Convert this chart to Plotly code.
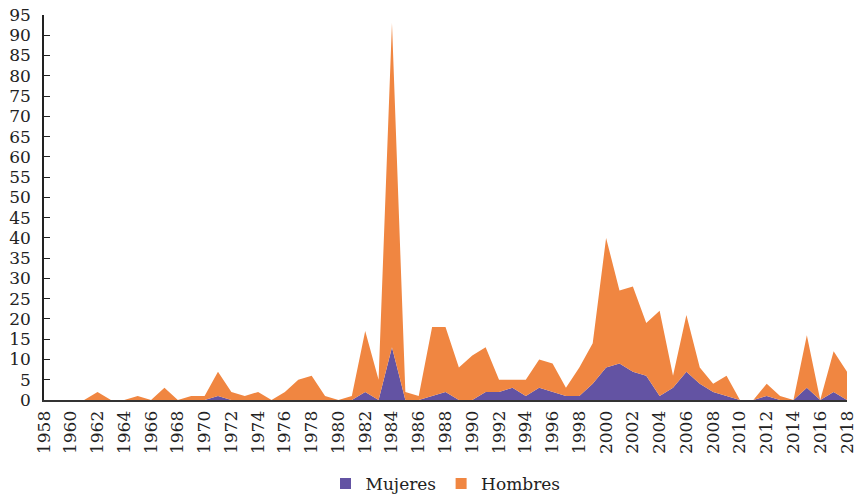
import plotly.graph_objects as go

years = list(range(1958, 2019))
mujeres = [0, 0, 0, 0, 0, 0, 0, 0, 0, 0,
           0, 0, 0, 1, 0, 0, 0, 0, 0, 0,
           0, 0, 0, 0, 2, 0, 13, 0, 0, 1,
           2, 0, 0, 2, 2, 3, 1, 3, 2, 1,
           1, 4, 8, 9, 7, 6, 1, 3, 7, 4,
           2, 1, 0, 0, 1, 0, 0, 3, 0, 2,
           0]
hombres = [0, 0, 0, 0, 2, 0, 0, 1, 0, 3,
           0, 1, 1, 6, 2, 1, 2, 0, 2, 5,
           6, 1, 0, 1, 15, 5, 80, 2, 1, 17,
           16, 8, 11, 11, 3, 2, 4, 7, 7, 2,
           7, 10, 32, 18, 21, 13, 21, 3, 14, 4,
           2, 5, 0, 0, 3, 1, 0, 13, 0, 10,
           7]
tick_years = list(range(1958, 2019, 2))
series_names = ["Mujeres", "Hombres"]
series_colors = ["#6353a3", "#f08641"]

font_family = "DejaVu Serif"
fig = go.Figure()
for name, vals, col in zip(series_names, [mujeres, hombres], series_colors):
    fig.add_trace(go.Scatter(x=years, y=vals, name=name, stackgroup="one",
                             mode="lines", line=dict(width=0, color=col),
                             fillcolor=col, showlegend=False, hoverinfo="skip"))
for name, col in zip(series_names, series_colors):
    fig.add_trace(go.Scatter(x=[None], y=[None], name=name, mode="markers",
                             marker=dict(symbol="square", size=11, color=col)))
fig.update_layout(
    width=857, height=496,
    margin=dict(l=44, r=10, t=15, b=96, autoexpand=False),
    paper_bgcolor="white", plot_bgcolor="white",
    font=dict(family=font_family, size=17, color="#222222"),
    showlegend=True,
    legend=dict(orientation="h", x=0.5, xanchor="center", y=-0.218, yanchor="middle",
                font=dict(size=17), itemwidth=30, traceorder="normal"),
    xaxis=dict(range=[1958, 2018], tickmode="array", tickvals=tick_years,
               ticktext=[str(y) for y in tick_years], tickangle=-90,
               showgrid=False, zeroline=False, showline=True, linecolor="#333333",
               linewidth=2, ticks="", automargin=False, ticklabelstandoff=2),
    yaxis=dict(range=[0, 95], dtick=5, showgrid=False, zeroline=False,
               showline=True, linecolor="#222222", linewidth=1.5,
               ticks="inside", ticklen=6, tickcolor="#222222", automargin=False,
               ticklabelstandoff=8),
)
fig.write_html("out.html", config={"displayModeBar": False},
               post_script="document.body.style.margin='0';document.body.style.overflow='hidden';")
